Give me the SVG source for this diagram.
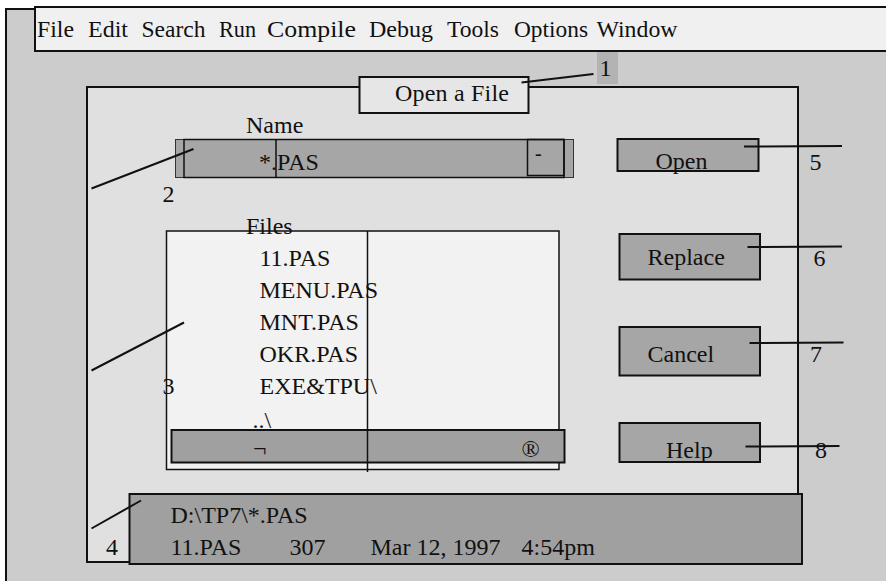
<svg xmlns="http://www.w3.org/2000/svg" width="886" height="581" viewBox="0 0 886 581">
  <style>
    text { font-family: "Liberation Serif", "Times New Roman", serif; font-size: 24px; fill: #111; }
    .frame { stroke: #111; stroke-width: 2; }
    .btn { fill: #a6a6a6; stroke: #111; stroke-width: 2; }
    .lead { stroke: #111; stroke-width: 2; fill: none; }
    .thin { stroke: #111; stroke-width: 1.5; fill: none; }
    .list { fill: #f2f2f2; stroke: #111; stroke-width: 1.5; }
  </style>

  <!-- screen background -->
  <g id="screen">
    <rect x="0" y="0" width="886" height="581" fill="#ffffff"/>
    <rect x="6" y="9" width="890" height="590" fill="#cccccc" class="frame"/>
  </g>

  <!-- menu bar -->
  <g id="menu-bar">
    <rect x="35" y="7" width="860" height="44" fill="#f0f0f0" class="frame"/>
    <text x="37" y="37" textLength="37" lengthAdjust="spacingAndGlyphs">File</text>
    <text x="88" y="37" textLength="40" lengthAdjust="spacingAndGlyphs">Edit</text>
    <text x="141.5" y="37" textLength="64" lengthAdjust="spacingAndGlyphs">Search</text>
    <text x="219" y="37" textLength="37" lengthAdjust="spacingAndGlyphs">Run</text>
    <text x="267" y="37" textLength="89" lengthAdjust="spacingAndGlyphs">Compile</text>
    <text x="369" y="37" textLength="64" lengthAdjust="spacingAndGlyphs">Debug</text>
    <text x="447" y="37" textLength="52" lengthAdjust="spacingAndGlyphs">Tools</text>
    <text x="514" y="37" textLength="74" lengthAdjust="spacingAndGlyphs">Options</text>
    <text x="596.5" y="37" textLength="81" lengthAdjust="spacingAndGlyphs">Window</text>
  </g>

  <!-- dialog window -->
  <g id="dialog">
    <rect x="87" y="87" width="711" height="475" fill="#e0e0e0" class="frame"/>
  </g>

  <!-- dialog title -->
  <g id="title">
    <rect x="597" y="52" width="21" height="32" fill="#b3b3b3"/>
    <rect x="359.5" y="77" width="169" height="36" fill="#e6e6e6" class="frame"/>
    <text x="395" y="101" textLength="114" lengthAdjust="spacing">Open a File</text>
  </g>

  <!-- name input -->
  <g id="name-field">
    <text x="246" y="133">Name</text>
    <rect x="175.5" y="139.5" width="398" height="38" fill="#a6a6a6" stroke="#333" stroke-width="1"/>
    <rect x="184" y="139.5" width="380" height="38" class="thin"/>
    <line x1="276" y1="139.5" x2="276" y2="177.5" class="thin"/>
    <rect x="527.5" y="139.5" width="36.5" height="36" class="thin"/>
    <text x="535" y="160" style="font-size:20px">-</text>
    <text x="259" y="170">*.PAS</text>
  </g>

  <!-- file list -->
  <g id="file-list">
    <rect x="166.5" y="231" width="392.5" height="238.5" class="list"/>
    <text x="246" y="234">Files</text>
    <text x="259.5" y="266">11.PAS</text>
    <text x="259.5" y="297.5">MENU.PAS</text>
    <text x="259.5" y="329.5">MNT.PAS</text>
    <text x="259.5" y="361.5">OKR.PAS</text>
    <text x="259.5" y="393.5">EXE&amp;TPU\</text>
    <text x="252.5" y="428">..\</text>
    <rect x="171.5" y="430" width="393" height="32.5" fill="#a0a0a0" class="frame"/>
    <text x="253" y="456">¬</text>
    <text x="521.5" y="457">®</text>
    <line x1="367.5" y1="231" x2="367.5" y2="472" class="thin"/>
  </g>

  <!-- buttons -->
  <g id="btn-open">
    <rect x="617.5" y="139" width="141" height="32" class="btn"/>
    <text x="655.5" y="169">Open</text>
  </g>
  <g id="btn-replace">
    <rect x="619.5" y="234" width="140.5" height="45.5" class="btn"/>
    <text x="647.5" y="265">Replace</text>
  </g>
  <g id="btn-cancel">
    <rect x="619.5" y="327" width="140.5" height="48.5" class="btn"/>
    <text x="647.5" y="361.5">Cancel</text>
  </g>
  <g id="btn-help">
    <rect x="619.5" y="423" width="140.5" height="39" class="btn"/>
    <text x="666" y="457.5">Help</text>
  </g>

  <!-- file information panel -->
  <g id="info-panel">
    <rect x="129.5" y="494" width="672.5" height="70" fill="#a0a0a0" class="frame"/>
    <text x="170.5" y="522.5">D:\TP7\*.PAS</text>
    <text x="170.5" y="555">11.PAS</text>
    <text x="289.5" y="555">307</text>
    <text x="370.5" y="555">Mar 12, 1997</text>
    <text x="521.5" y="555">4:54pm</text>
  </g>

  <!-- leader lines -->
  <g id="connectors">
    <line x1="521.5" y1="82.5" x2="593.5" y2="74" class="lead"/>
    <line x1="91.5" y1="188.5" x2="193.5" y2="149" class="lead"/>
    <line x1="91.5" y1="370.5" x2="184" y2="322.5" class="lead"/>
    <line x1="91.5" y1="528.5" x2="141" y2="500.5" class="lead"/>
    <line x1="744" y1="146.5" x2="842" y2="146" class="lead"/>
    <line x1="747.5" y1="247" x2="842" y2="246.5" class="lead"/>
    <line x1="749.5" y1="343" x2="843.5" y2="342.5" class="lead"/>
    <line x1="745.5" y1="446.5" x2="839.5" y2="446" class="lead"/>
  </g>

  <!-- callout numbers -->
  <g id="callouts">
    <text x="599.5" y="76">1</text>
    <text x="162.5" y="202">2</text>
    <text x="162.5" y="393.5">3</text>
    <text x="106" y="555">4</text>
    <text x="809.5" y="169.5">5</text>
    <text x="813.5" y="265.5">6</text>
    <text x="810" y="361.5">7</text>
    <text x="815" y="458">8</text>
  </g>
</svg>
